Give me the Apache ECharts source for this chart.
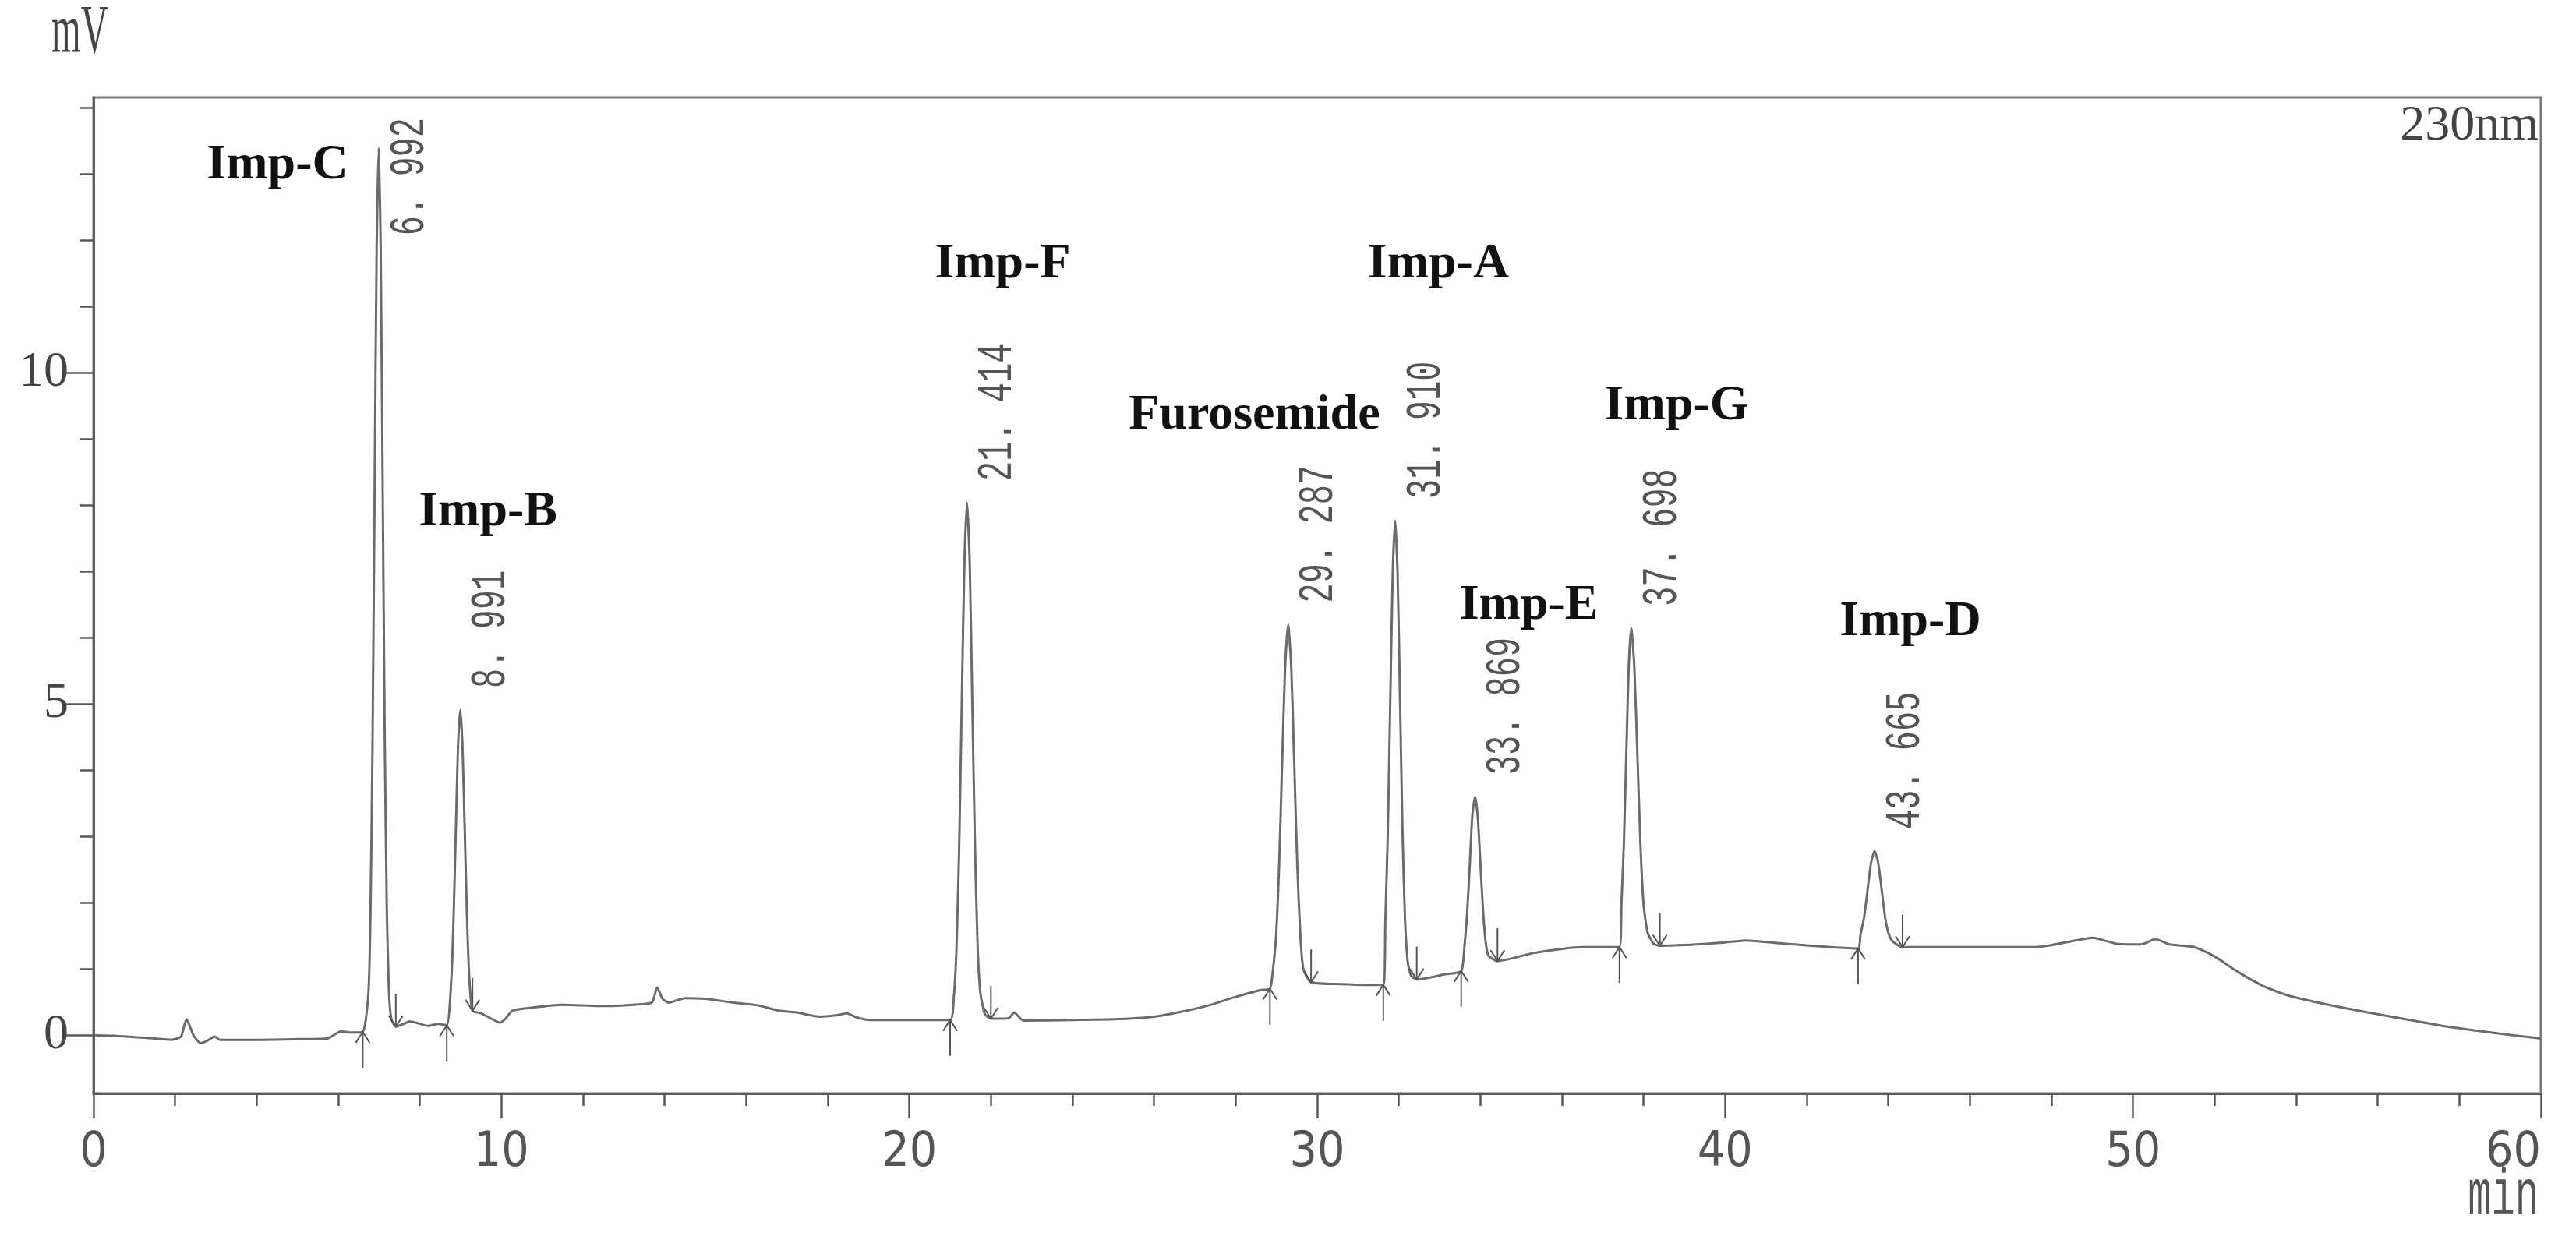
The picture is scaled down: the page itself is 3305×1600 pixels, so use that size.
<!DOCTYPE html>
<html><head><meta charset="utf-8">
<script src="https://cdn.jsdelivr.net/npm/echarts@6/dist/echarts.min.js"></script>
<style>html,body{margin:0;padding:0;background:#fff}#c{width:3305px;height:1600px}</style>
</head><body><div id="c"></div>
<script>
// ---- data ----
const chromatogram = [
  [0,0.0],[0.5,-0.01],[1.0,-0.03],[1.5,-0.05],[1.9,-0.07],[2.05,-0.05],[2.15,-0.02],[2.28,0.24],[2.45,0.0],[2.62,-0.12],[2.8,-0.08],[2.97,-0.02],[3.1,-0.07],[4.0,-0.07],[5.0,-0.06],[5.73,-0.05],[6.07,0.06],[6.3,0.04],[6.6,0.05],
  [6.74,0.64],[6.79,1.85],[6.84,4.39],[6.89,8.15],[6.94,11.82],[6.992,13.4],[7.04,11.85],[7.09,8.2],[7.14,4.45],[7.19,1.9],[7.24,0.7],[7.30,0.25],[7.41,0.13],
  [7.6,0.17],[7.75,0.21],[7.9,0.19],[8.2,0.14],[8.45,0.17],[8.66,0.15],
  [8.77,0.83],[8.825,1.73],[8.88,3.05],[8.935,4.35],[8.991,4.91],[9.045,4.37],[9.10,3.1],[9.155,1.8],[9.21,0.9],[9.29,0.37],
  [9.5,0.33],[9.75,0.25],[9.96,0.19],[10.1,0.25],[10.27,0.37],[10.8,0.42],[11.5,0.46],[12.5,0.44],[13.5,0.47],[13.7,0.5],[13.82,0.72],[13.95,0.55],[14.1,0.49],[14.5,0.56],[15.0,0.55],[15.7,0.49],[16.3,0.45],[16.8,0.37],[17.26,0.34],[17.81,0.28],[18.2,0.30],[18.47,0.33],[18.7,0.27],[19.02,0.23],[20.12,0.23],[21.0,0.23],
  [21.09,0.57],[21.154,1.28],[21.22,2.77],[21.284,4.97],[21.35,7.12],[21.414,8.04],[21.48,7.14],[21.544,5.0],[21.61,2.85],[21.674,1.35],[21.74,0.65],[21.85,0.32],[22.0,0.25],
  [22.3,0.25],[22.45,0.26],[22.57,0.34],[22.8,0.22],[24.0,0.23],[25.0,0.24],[26.0,0.28],[26.8,0.37],[27.4,0.46],[27.9,0.56],[28.6,0.68],[28.84,0.70],
  [28.90,0.91],[28.987,1.46],[29.062,2.50],[29.137,4.05],[29.212,5.55],[29.287,6.2],[29.362,5.58],[29.437,4.10],[29.512,2.55],[29.587,1.5],[29.66,1.0],[29.85,0.80],
  [30.6,0.77],[31.2,0.76],[31.62,0.76],
  [31.67,1.72],[31.73,3.05],[31.79,5.02],[31.85,6.95],[31.91,7.77],[31.97,6.97],[32.03,5.06],[32.09,3.1],[32.15,1.78],[32.22,1.1],[32.30,0.9],[32.44,0.84],
  [33.14,0.92],[33.53,0.97],
  [33.61,1.35],[33.675,1.84],[33.74,2.57],[33.80,3.30],[33.869,3.6],[33.935,3.30],[34.0,2.6],[34.064,1.9],[34.13,1.4],[34.2,1.2],[34.42,1.12],
  [35.3,1.24],[36.5,1.33],[37.41,1.33],
  [37.458,1.99],[37.518,2.90],[37.578,4.26],[37.638,5.58],[37.698,6.15],[37.773,5.58],[37.848,4.26],[37.923,2.90],[37.998,1.99],[38.1,1.55],[38.25,1.38],[38.40,1.35],
  [39.3,1.37],[40.0,1.40],[40.5,1.43],[41.5,1.38],[42.6,1.33],[43.26,1.31],
  [43.32,1.52],[43.41,1.79],[43.495,2.21],[43.58,2.61],[43.665,2.78],[43.75,2.61],[43.835,2.21],[43.92,1.79],[44.0,1.55],[44.1,1.42],[44.35,1.33],
  [45.5,1.33],[46.5,1.33],[47.6,1.33],[48.0,1.36],[48.6,1.43],[49.0,1.47],[49.6,1.38],[50.2,1.37],[50.55,1.45],[50.9,1.37],[51.5,1.33],[52.0,1.19],[52.56,0.96],[53.2,0.74],[53.8,0.60],[54.7,0.47],[55.7,0.35],[56.6,0.25],[57.5,0.15],[58.4,0.07],[59.3,0.0],[60.0,-0.05]
];
const peakNames      = ['Imp-C','Imp-B','Imp-F','Furosemide','Imp-A','Imp-E','Imp-G','Imp-D'];
const retentionTimes = [6.992, 8.991, 21.414, 29.287, 31.910, 33.869, 37.698, 43.665];
const apexHeights    = [13.4, 4.91, 8.04, 6.2, 7.77, 3.6, 6.15, 2.78];
const peakStartTimes  = [6.60, 8.66, 21.0, 28.84, 31.62, 33.53, 37.41, 43.26];
const peakStartLevels = [0.05, 0.15, 0.23, 0.70, 0.76, 0.97, 1.33, 1.31];
const peakEndTimes    = [7.41, 9.29, 22.0, 29.85, 32.44, 34.42, 38.40, 44.35];
const peakEndLevels   = [0.13, 0.37, 0.25, 0.80, 0.84, 1.12, 1.35, 1.33];
const yLabelTicks = [0, 5, 10];
const yMinorTicks = [1, 2, 3, 4, 6, 7, 8, 9, 11, 12, 13, 14];
const xRange = [0, 60];
const yRange = [-0.88, 14.16];

// ---- annotation layout (where the peak-name captions sit, in axis units) ----
const nameLabelAt = [[4.51,13.13],[9.67,7.89],[22.29,11.64],[28.46,9.35],[32.97,11.64],[35.19,6.48],[38.81,9.50],[44.54,6.24]];

const rtLabels = retentionTimes.map(v => v.toFixed(3).replace('.', '. '));
const arrowData = peakStartTimes.map((t, i) => [t, peakStartLevels[i], 1])
  .concat(peakEndTimes.map((t, i) => [t, peakEndLevels[i], -1]));

const AX = '#5a5a5a';
const chart = echarts.init(document.getElementById('c'), null, {renderer: 'canvas'});
chart.setOption({
  animation: false,
  backgroundColor: '#fff',
  grid: { left: 120, right: 45, top: 125, bottom: 197, show: true, borderColor: '#777', borderWidth: 3 },
  xAxis: [{
    type: 'value', min: xRange[0], max: xRange[1], interval: 10,
    axisLine: { show: true, onZero: false, lineStyle: { color: AX, width: 3 } },
    axisTick: { show: true, length: 32, lineStyle: { color: AX, width: 2.5 } },
    minorTick: { show: true, splitNumber: 5, length: 16, lineStyle: { color: AX, width: 2.5 } },
    splitLine: { show: false },
    axisLabel: { margin: 46, color: '#555', fontSize: 62, fontFamily: '"Liberation Sans Narrow", "DejaVu Sans Condensed", "Liberation Sans", sans-serif', alignMaxLabel: 'right' }
  }],
  yAxis: [{
    type: 'value', min: yRange[0], max: yRange[1], position: 'left',
    axisLine: { show: true, onZero: false, lineStyle: { color: AX, width: 3 } },
    axisTick: { show: true, length: 36, customValues: yLabelTicks, lineStyle: { color: AX, width: 2.5 } },
    axisLabel: { margin: 32, customValues: yLabelTicks, color: '#444', fontSize: 64, fontFamily: '"Liberation Serif", serif' },
    splitLine: { show: false }
  }, {
    type: 'value', min: yRange[0], max: yRange[1], position: 'left',
    axisLine: { show: false },
    axisTick: { show: true, length: 18, customValues: yMinorTicks, lineStyle: { color: AX, width: 2.5 } },
    axisLabel: { show: false },
    splitLine: { show: false }
  }],
  graphic: [
    { type: 'text', x: 66, y: 88, scaleX: 0.55, style: { text: 'mV', font: '88px "Liberation Serif", serif', fill: '#444', align: 'left', verticalAlign: 'bottom' } },
    { type: 'text', x: 3257, y: 1578, scaleX: 0.6, style: { text: 'min', font: '84px "Liberation Mono", monospace', fill: '#555', align: 'right', verticalAlign: 'bottom' } },
    { type: 'text', x: 3257, y: 130, style: { text: '230nm', font: '64px "Liberation Serif", serif', fill: '#444', align: 'right', verticalAlign: 'top' } }
  ],
  series: [
    {
      type: 'line', data: chromatogram, showSymbol: false, smooth: 0.2, z: 2,
      lineStyle: { color: '#6b6b6b', width: 3 }
    },
    {
      type: 'custom', data: arrowData, z: 3, silent: true,
      renderItem(params, api) {
        const p = api.coord([api.value(0), api.value(1)]);
        const d = api.value(2);
        const len = d > 0 ? 46 : 42;
        const tail = p[1] + d * len;
        const head = p[1] + d * 14;
        return { type: 'group', children: [
          { type: 'line', shape: { x1: p[0], y1: tail, x2: p[0], y2: p[1] }, style: { stroke: '#555', lineWidth: 2 } },
          { type: 'polyline', shape: { points: [[p[0] - 9, head], [p[0], p[1]], [p[0] + 9, head]] }, style: { stroke: '#555', lineWidth: 2, fill: null } }
        ]};
      }
    },
    {
      type: 'custom', data: retentionTimes.map((t, i) => [t, apexHeights[i]]), z: 4, silent: true,
      renderItem(params, api) {
        const p = api.coord([api.value(0), api.value(1)]);
        const text = rtLabels[params.dataIndex];
        const fs = 42, len = text.length * fs * 0.6;
        let bottom = p[1] - 28;
        const top = params.coordSys.y;
        if (bottom - len < top + 26) bottom = top + 26 + len;
        return { type: 'text', x: p[0] + 40, y: bottom, rotation: Math.PI / 2, scaleY: 1.5,
          style: { text, font: fs + 'px "Liberation Mono", monospace', fill: '#555', align: 'left', verticalAlign: 'middle' } };
      }
    },
    {
      type: 'custom', data: nameLabelAt, z: 4, silent: true,
      renderItem(params, api) {
        const p = api.coord([api.value(0), api.value(1)]);
        return { type: 'text', x: p[0], y: p[1],
          style: { text: peakNames[params.dataIndex], font: 'bold 64px "Liberation Serif", "Times New Roman", serif', fill: '#111', align: 'center', verticalAlign: 'middle' } };
      }
    }
  ]
});
</script></body></html>
